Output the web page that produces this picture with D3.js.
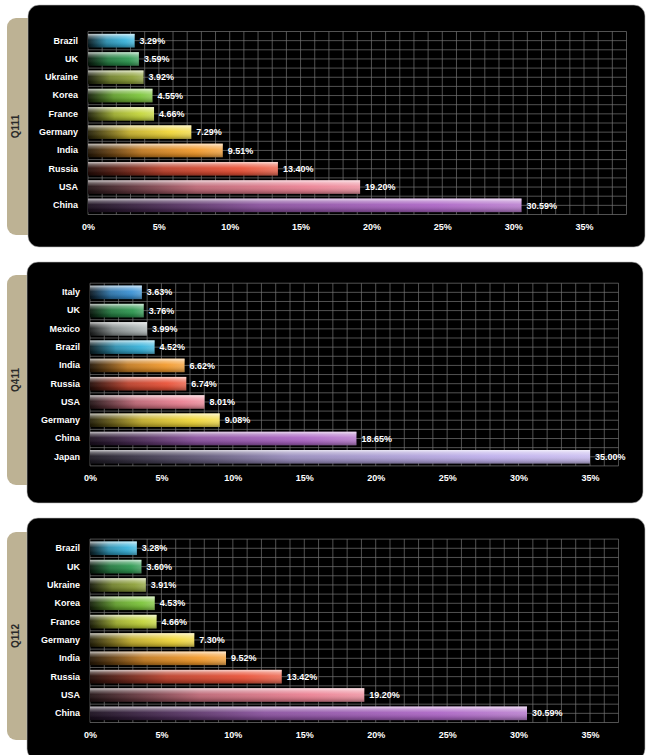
<!DOCTYPE html>
<html>
<head>
<meta charset="utf-8">
<script src="https://cdn.jsdelivr.net/npm/d3@7"></script>
<style>
  body { margin: 0; background: #fff; }
  svg { display: block; }
  text { font-family: "Liberation Sans", Arial, sans-serif; font-weight: bold; }
</style>
</head>
<body>
<svg width="647" height="755"></svg>
<script>
// data
var q111Countries = ["Brazil", "UK", "Ukraine", "Korea", "France", "Germany", "India", "Russia", "USA", "China"],
    q111Values = [3.29, 3.59, 3.92, 4.55, 4.66, 7.29, 9.51, 13.40, 19.20, 30.59];

var q411Countries = ["Italy", "UK", "Mexico", "Brazil", "India", "Russia", "USA", "Germany", "China", "Japan"],
    q411Values = [3.63, 3.76, 3.99, 4.52, 6.62, 6.74, 8.01, 9.08, 18.65, 35.00];

var q112Countries = ["Brazil", "UK", "Ukraine", "Korea", "France", "Germany", "India", "Russia", "USA", "China"],
    q112Values = [3.28, 3.60, 3.91, 4.53, 4.66, 7.30, 9.52, 13.42, 19.20, 30.59];

var tickValues = [0, 5, 10, 15, 20, 25, 30, 35];

var countryColors = {
  Brazil: "#3ab4dc", UK: "#2f9a52", Ukraine: "#8fa23a", Korea: "#7cc63a",
  France: "#c6d83c", Germany: "#f2d83a", India: "#f39a2c", Russia: "#ea5238",
  USA: "#ec8294", China: "#ad66c6", Italy: "#3b93d6", Mexico: "#a9b1b1",
  Japan: "#bfb0ec"
};

// layout of each panel
var panels = [
  {label: "Q111", countries: q111Countries, values: q111Values,
   box: [28, 5, 617, 242], tab: [18, 235], x: [88, 584], gridMax: 38, y: [31.5, 214.5], axisY: 224},
  {label: "Q411", countries: q411Countries, values: q411Values,
   box: [27, 262, 616, 241], tab: [275, 485], x: [90, 590], gridMax: 37, y: [283.2, 465.9], axisY: 475},
  {label: "Q112", countries: q112Countries, values: q112Values,
   box: [27, 518, 618, 242], tab: [532, 740], x: [90, 590], gridMax: 37, y: [539.1, 722.5], axisY: 732}
];

var svg = d3.select("svg");
var defs = svg.append("defs");

// glossy gradients
Object.keys(countryColors).forEach(function(k) {
  var c = countryColors[k];
  var g = defs.append("linearGradient").attr("id", "h-" + k)
      .attr("x1", 0).attr("x2", 1).attr("y1", 0).attr("y2", 0);
  g.append("stop").attr("offset", 0).attr("stop-color", d3.interpolateRgb(c, "#000")(0.85));
  g.append("stop").attr("offset", 0.4).attr("stop-color", d3.interpolateRgb(c, "#000")(0.2));
  g.append("stop").attr("offset", 0.8).attr("stop-color", c);
  g.append("stop").attr("offset", 1).attr("stop-color", d3.interpolateRgb(c, "#fff")(0.2));
});

var gloss = defs.append("linearGradient").attr("id", "gloss")
    .attr("x1", 0).attr("x2", 0).attr("y1", 0).attr("y2", 1);
[[0, "#fff", 0.75], [0.2, "#fff", 0.35], [0.45, "#fff", 0.05], [0.8, "#000", 0.15], [1, "#000", 0.35]]
  .forEach(function(s) {
    gloss.append("stop").attr("offset", s[0]).attr("stop-color", s[1]).attr("stop-opacity", s[2]);
  });

panels.forEach(function(p) {
  var data = p.countries.map(function(c, i) { return {country: c, value: p.values[i]}; });

  var x = d3.scaleLinear().domain([0, 35]).range(p.x),
      y = d3.scaleBand().domain(p.countries).range(p.y).paddingInner(0.26).paddingOuter(0.13);

  var g = svg.append("g");

  // tab
  g.append("rect")
      .attr("x", 7).attr("y", p.tab[0])
      .attr("width", 40).attr("height", p.tab[1] - p.tab[0])
      .attr("rx", 9).attr("fill", "#bdb294");

  g.append("text")
      .attr("transform", "translate(19," + (p.tab[0] + p.tab[1]) / 2 + ") rotate(-90)")
      .attr("text-anchor", "middle")
      .attr("font-size", 10)
      .attr("fill", "#2a2a2a")
      .text(p.label);

  // panel
  g.append("rect")
      .attr("x", p.box[0]).attr("y", p.box[1])
      .attr("width", p.box[2]).attr("height", p.box[3])
      .attr("rx", 11).attr("fill", "#000")
      .attr("stroke", "#bbb").attr("stroke-width", 0.6);

  // grid
  var yTop = p.y[0], yBot = p.y[1], step = y.step();
  var grid = g.append("g").attr("stroke", "#a8a8a8").attr("stroke-width", 0.7).attr("opacity", 0.7);
  grid.selectAll("line.v")
    .data(d3.range(0, p.gridMax + 1))
    .join("line")
      .attr("x1", function(d) { return x(d); }).attr("x2", function(d) { return x(d); })
      .attr("y1", yTop).attr("y2", yBot);
  grid.selectAll("line.h")
    .data(d3.range(0, p.countries.length * 2 + 1))
    .join("line")
      .attr("x1", x(0)).attr("x2", x(p.gridMax))
      .attr("y1", function(d) { return yTop + d * step / 2; })
      .attr("y2", function(d) { return yTop + d * step / 2; });

  // bars
  var bars = g.append("g").selectAll("g").data(data).join("g");
  bars.append("rect")
      .attr("x", x(0))
      .attr("y", function(d) { return y(d.country); })
      .attr("width", function(d) { return x(d.value) - x(0); })
      .attr("height", y.bandwidth())
      .attr("fill", function(d) { return "url(#h-" + d.country + ")"; });
  bars.append("rect")
      .attr("x", x(0))
      .attr("y", function(d) { return y(d.country); })
      .attr("width", function(d) { return x(d.value) - x(0); })
      .attr("height", y.bandwidth())
      .attr("fill", "url(#gloss)");

  bars.append("text")
      .attr("x", function(d) { return x(d.value) + 5; })
      .attr("y", function(d) { return y(d.country) + y.bandwidth() / 2; })
      .attr("dy", "0.35em")
      .attr("font-size", 9)
      .attr("fill", "#fff")
      .text(function(d) { return d.value.toFixed(2) + "%"; });

  // axes
  var yAxis = d3.axisLeft(y).tickSize(0).tickPadding(10);
  var ay = g.append("g").attr("transform", "translate(" + x(0) + ",0)").call(yAxis);
  ay.select(".domain").remove();
  ay.selectAll("text").attr("fill", "#fff").attr("font-size", 9).attr("font-family", null);

  var xAxis = d3.axisBottom(x).tickValues(tickValues).tickSize(0).tickPadding(0)
      .tickFormat(function(d) { return d + "%"; });
  var ax = g.append("g").attr("transform", "translate(0," + p.axisY + ")").call(xAxis);
  ax.select(".domain").remove();
  ax.selectAll("text").attr("fill", "#fff").attr("font-size", 9).attr("font-family", null);
});
</script>
</body>
</html>
